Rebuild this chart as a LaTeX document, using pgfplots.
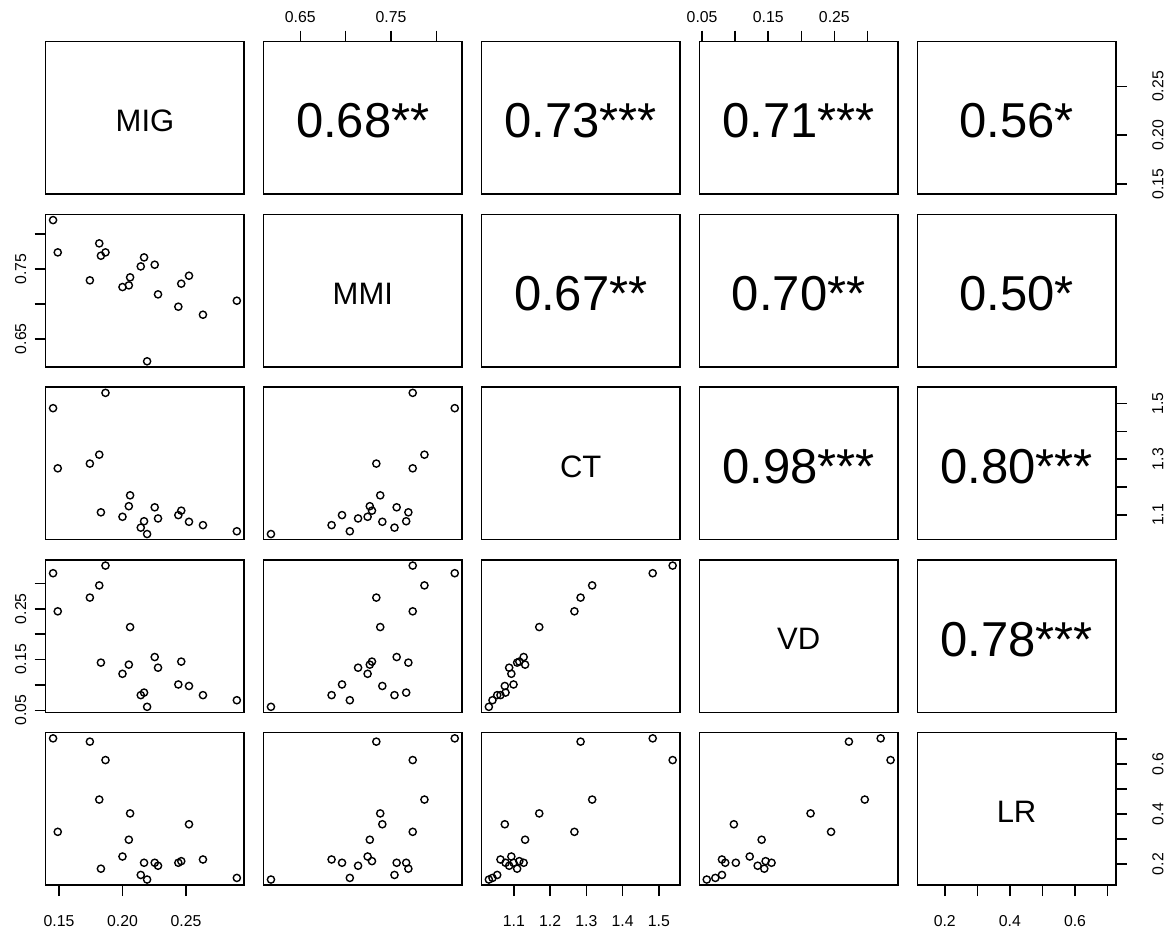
\documentclass[border=0pt]{standalone}
\usepackage{fontspec}
\setmainfont{Liberation Sans}
\usepackage{pgfplots}
\usepackage{pgfplotstable}
\pgfplotsset{compat=1.18}

% Site measurements: MIG, MMI, CT, VD, LR
\pgfplotstableread{
MIG    MMI    CT    VD    LR
0.1453 0.8202 1.483 0.320 0.7026
0.1490 0.7739 1.267 0.245 0.3289
0.1743 0.7338 1.284 0.272 0.6895
0.1817 0.7868 1.316 0.296 0.4579
0.1830 0.7691 1.109 0.144 0.1816
0.1866 0.7739 1.538 0.335 0.6158
0.2000 0.7242 1.093 0.122 0.2303
0.2050 0.7266 1.131 0.140 0.2974
0.2060 0.7381 1.170 0.214 0.4026
0.2144 0.7538 1.054 0.080 0.1566
0.2170 0.7667 1.077 0.085 0.2053
0.2194 0.6177 1.031 0.057 0.1382
0.2254 0.7562 1.127 0.155 0.2053
0.2280 0.7137 1.087 0.134 0.1934
0.2440 0.6960 1.099 0.101 0.2053
0.2463 0.7290 1.115 0.146 0.2118
0.2524 0.7404 1.075 0.098 0.3592
0.2634 0.6845 1.063 0.080 0.2184
0.2901 0.7046 1.041 0.070 0.1447
}\data

\tikzset{
  diag/.style={font=\fontsize{15.5}{18}\selectfont, yshift=-1.5pt},
  corr/.style={font=\fontsize{24.5}{28}\selectfont, yshift=-1.5pt},
}

\pgfplotsset{
  pane/.style={scale only axis, width=99.25pt, height=76.25pt, anchor=north west,
    xtick=\empty, ytick=\empty, axis line style={line width=0.75pt},
    every tick/.style={black, line width=0.75pt}, tick align=outside,
    major tick length=5.5pt,
    tick label style={font=\fontsize{7.9}{9}\selectfont},
    clip=false},
  % ranges (data range widened by 4% each side)
  xMIG/.style={xmin=0.1395,xmax=0.2959}, yMIG/.style={ymin=0.1395,ymax=0.2959},
  xMMI/.style={xmin=0.6096,xmax=0.8283}, yMMI/.style={ymin=0.6096,ymax=0.8283},
  xCT/.style={xmin=1.0107,xmax=1.5583},  yCT/.style={ymin=1.0107,ymax=1.5583},
  xVD/.style={xmin=0.0459,xmax=0.3461},  yVD/.style={ymin=0.0459,ymax=0.3461},
  xLR/.style={xmin=0.1156,xmax=0.7252},  yLR/.style={ymin=0.1156,ymax=0.7252},
  % outer axes
  axBot/.style={xtick pos=lower, xticklabel pos=lower,
    xticklabel style={anchor=center, yshift=-12.5pt}},
  axTop/.style={xtick pos=upper, xticklabel pos=upper,
    xticklabel style={anchor=center, yshift=7pt}},
  axLft/.style={ytick pos=left, yticklabel pos=left,
    yticklabel style={xshift=-7pt, rotate=90, anchor=center}},
  axRgt/.style={ytick pos=right, yticklabel pos=right,
    yticklabel style={xshift=15.5pt, rotate=90, anchor=center}},
  pts/.style={only marks, mark=o, mark size=1.8pt, black,
    mark options={line width=0.7pt}},
}

\begin{document}
\begin{tikzpicture}
\useasboundingbox (0,0) rectangle (585.5pt,-465.5pt);

% ---------- row 1: MIG ----------
\begin{axis}[pane, at={(22.85pt,-20.85pt)}, xMIG, yMIG]
  \node[diag] at (rel axis cs:0.5,0.5) {MIG};
\end{axis}
\begin{axis}[pane, at={(131.8pt,-20.85pt)}, xMMI, yMIG, axTop,
    xtick={0.65,0.70,0.75,0.80}, xticklabels={0.65,,0.75,}]
  \node[corr] at (rel axis cs:0.5,0.5) {0.68**};
\end{axis}
\begin{axis}[pane, at={(240.75pt,-20.85pt)}, xCT, yMIG]
  \node[corr] at (rel axis cs:0.5,0.5) {0.73***};
\end{axis}
\begin{axis}[pane, at={(349.7pt,-20.85pt)}, xVD, yMIG, axTop,
    xtick={0.05,0.10,0.15,0.20,0.25,0.30}, xticklabels={0.05,,0.15,,0.25,}]
  \node[corr] at (rel axis cs:0.5,0.5) {0.71***};
\end{axis}
\begin{axis}[pane, at={(458.65pt,-20.85pt)}, xLR, yMIG, axRgt,
    ytick={0.15,0.20,0.25}, yticklabels={0.15,0.20,0.25}]
  \node[corr] at (rel axis cs:0.5,0.5) {0.56*};
\end{axis}

% ---------- row 2: MMI ----------
\begin{axis}[pane, at={(22.85pt,-107.225pt)}, xMIG, yMMI, axLft,
    ytick={0.65,0.70,0.75,0.80}, yticklabels={0.65,,0.75,}]
  \addplot[pts] table[x=MIG,y=MMI]{\data};
\end{axis}
\begin{axis}[pane, at={(131.8pt,-107.225pt)}, xMMI, yMMI]
  \node[diag] at (rel axis cs:0.5,0.5) {MMI};
\end{axis}
\begin{axis}[pane, at={(240.75pt,-107.225pt)}, xCT, yMMI]
  \node[corr] at (rel axis cs:0.5,0.5) {0.67**};
\end{axis}
\begin{axis}[pane, at={(349.7pt,-107.225pt)}, xVD, yMMI]
  \node[corr] at (rel axis cs:0.5,0.5) {0.70**};
\end{axis}
\begin{axis}[pane, at={(458.65pt,-107.225pt)}, xLR, yMMI]
  \node[corr] at (rel axis cs:0.5,0.5) {0.50*};
\end{axis}

% ---------- row 3: CT ----------
\begin{axis}[pane, at={(22.85pt,-193.6pt)}, xMIG, yCT]
  \addplot[pts] table[x=MIG,y=CT]{\data};
\end{axis}
\begin{axis}[pane, at={(131.8pt,-193.6pt)}, xMMI, yCT]
  \addplot[pts] table[x=MMI,y=CT]{\data};
\end{axis}
\begin{axis}[pane, at={(240.75pt,-193.6pt)}, xCT, yCT]
  \node[diag] at (rel axis cs:0.5,0.5) {CT};
\end{axis}
\begin{axis}[pane, at={(349.7pt,-193.6pt)}, xVD, yCT]
  \node[corr] at (rel axis cs:0.5,0.5) {0.98***};
\end{axis}
\begin{axis}[pane, at={(458.65pt,-193.6pt)}, xLR, yCT, axRgt,
    ytick={1.1,1.2,1.3,1.4,1.5}, yticklabels={1.1,,1.3,,1.5}]
  \node[corr] at (rel axis cs:0.5,0.5) {0.80***};
\end{axis}

% ---------- row 4: VD ----------
\begin{axis}[pane, at={(22.85pt,-279.975pt)}, xMIG, yVD, axLft,
    ytick={0.05,0.10,0.15,0.20,0.25,0.30}, yticklabels={0.05,,0.15,,0.25,}]
  \addplot[pts] table[x=MIG,y=VD]{\data};
\end{axis}
\begin{axis}[pane, at={(131.8pt,-279.975pt)}, xMMI, yVD]
  \addplot[pts] table[x=MMI,y=VD]{\data};
\end{axis}
\begin{axis}[pane, at={(240.75pt,-279.975pt)}, xCT, yVD]
  \addplot[pts] table[x=CT,y=VD]{\data};
\end{axis}
\begin{axis}[pane, at={(349.7pt,-279.975pt)}, xVD, yVD]
  \node[diag] at (rel axis cs:0.5,0.5) {VD};
\end{axis}
\begin{axis}[pane, at={(458.65pt,-279.975pt)}, xLR, yVD]
  \node[corr] at (rel axis cs:0.5,0.5) {0.78***};
\end{axis}

% ---------- row 5: LR ----------
\begin{axis}[pane, at={(22.85pt,-366.35pt)}, xMIG, yLR, axBot,
    xtick={0.15,0.20,0.25}, xticklabels={0.15,0.20,0.25}]
  \addplot[pts] table[x=MIG,y=LR]{\data};
\end{axis}
\begin{axis}[pane, at={(131.8pt,-366.35pt)}, xMMI, yLR]
  \addplot[pts] table[x=MMI,y=LR]{\data};
\end{axis}
\begin{axis}[pane, at={(240.75pt,-366.35pt)}, xCT, yLR, axBot,
    xtick={1.1,1.2,1.3,1.4,1.5}, xticklabels={1.1,1.2,1.3,1.4,1.5}]
  \addplot[pts] table[x=CT,y=LR]{\data};
\end{axis}
\begin{axis}[pane, at={(349.7pt,-366.35pt)}, xVD, yLR]
  \addplot[pts] table[x=VD,y=LR]{\data};
\end{axis}
\begin{axis}[pane, at={(458.65pt,-366.35pt)}, xLR, yLR, axBot, axRgt,
    xtick={0.2,0.3,0.4,0.5,0.6,0.7}, xticklabels={0.2,,0.4,,0.6,},
    ytick={0.2,0.3,0.4,0.5,0.6,0.7}, yticklabels={0.2,,0.4,,0.6,}]
  \node[diag] at (rel axis cs:0.5,0.5) {LR};
\end{axis}
\end{tikzpicture}
\end{document}
